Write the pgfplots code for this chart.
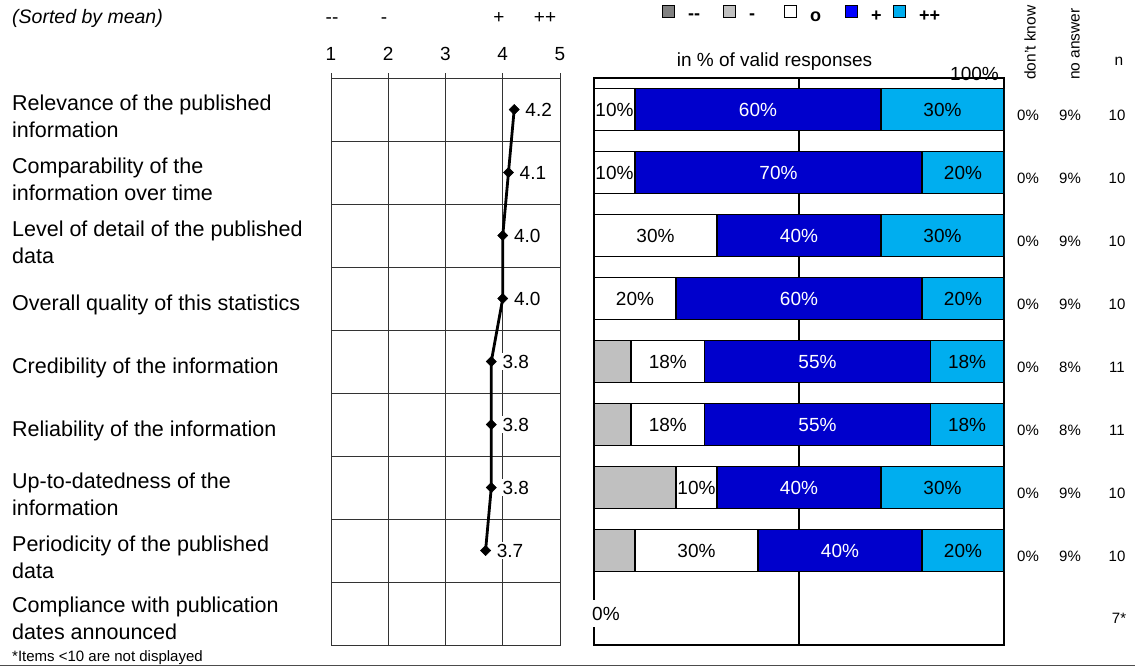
\documentclass[border=0pt]{standalone}
\usepackage{pgfplots}
\pgfplotsset{compat=1.18}
\usepackage{fontspec}
\setmainfont{Liberation Sans}
\definecolor{cdgray}{RGB}{128,128,128}
\definecolor{clgray}{RGB}{192,192,192}
\definecolor{cblue}{RGB}{0,0,204}
\definecolor{cblueleg}{RGB}{0,0,255}
\definecolor{ccyan}{RGB}{0,174,239}
\newcommand\fs[1]{\fontsize{#1}{#1}\selectfont}
\pgfplotsset{/pgf/number format/assume math mode=true,
  legsq/.style={legend image code/.code={\draw[##1,draw=black,line width=1pt] (0pt,-0.5pt) rectangle (12pt,11.5pt);}}}
\tikzset{bl/.style={font=\fs{19}, inner sep=0pt}, wl/.style={font=\fs{19}, inner sep=0pt, text=white}}

\begin{document}
\begin{tikzpicture}[x=1pt,y=1pt]
\useasboundingbox (0,0) rectangle (1135,-666);

% ---- titles / headers
\node[anchor=base west, inner sep=0pt, font=\fs{19.5}\itshape] at (12,-24) {(Sorted by mean)};
\node[anchor=base, inner sep=0pt, font=\fs{19}] at (332,-24) {-{}-};
\node[anchor=base, inner sep=0pt, font=\fs{19}] at (384,-24) {-};
\node[anchor=base, inner sep=0pt, font=\fs{19}] at (499,-24) {+};
\node[anchor=base, inner sep=0pt, font=\fs{19}] at (545,-24) {++};

% ---- category labels (row centre c = 46.5 + 63 i)
\begin{scope}[every node/.style={anchor=base west, inner sep=0pt, font=\fs{21.5}}]
\node at (12,-110.5) {Relevance of the published};
\node at (12,-137.5) {information};
\node at (12,-173.5) {Comparability of the};
\node at (12,-200.5) {information over time};
\node at (12,-236.5) {Level of detail of the published};
\node at (12,-263.5) {data};
\node at (12,-310.5) {Overall quality of this statistics};
\node at (12,-373.5) {Credibility of the information};
\node at (12,-436.5) {Reliability of the information};
\node at (12,-488.5) {Up-to-datedness of the};
\node at (12,-515.5) {information};
\node at (12,-551.5) {Periodicity of the published};
\node at (12,-578.5) {data};
\node at (12,-612.5) {Compliance with publication};
\node at (12,-639.5) {dates announced};
\end{scope}
\node[anchor=base west, inner sep=0pt, font=\fs{15}] at (12,-661) {*Items <10 are not displayed};
\draw[black!70, line width=1.5pt] (0,-665.5) -- (1135,-665.5);

% ---- mean chart
\begin{axis}[
  at={(331pt,-645pt)}, anchor=south west,
  scale only axis, width=229pt, height=567pt,
  xmin=1, xmax=5, ymin=0.5, ymax=9.5, y dir=reverse,
  clip=false,
  xtick={1,2,3,4,5}, xtick pos=upper, xticklabel pos=upper,
  tick align=outside, major tick length=5pt,
  xtick style={black!80, line width=1pt},
  xticklabel style={font=\fs{19}, yshift=9pt},
  ytick={0.5,1.5,...,9.5}, yticklabels={}, ytick style={draw=none},
  xmajorgrids, ymajorgrids,
  major grid style={black!80, line width=1pt},
  axis line style={black!80, line width=1pt},
]
\addplot[black, line width=2.8pt, mark=square*,
  mark options={rotate=45, line width=0.5pt, fill=black, scale=1},
  mark size=3.6pt,
  nodes near coords={\pgfmathprintnumber[fixed,fixed zerofill,precision=1]{\pgfplotspointmeta}},
  point meta=x, nodes near coords align={horizontal},
  every node near coord/.append style={font=\fs{19}, fill=white, inner sep=2pt, xshift=9pt, text=black}]
coordinates {(4.2,1) (4.1,2) (4.0,3) (4.0,4) (3.8,5) (3.8,6) (3.8,7) (3.7,8)};
\end{axis}

% ---- bar chart texts behind frame
\node[anchor=base east, inner sep=0pt, font=\fs{19}] at (999,-81) {100\%};
\node[anchor=base, inner sep=0pt, font=\fs{19}] at (774.5,-67) {in \% of valid responses};

\begin{axis}[
  at={(594pt,-645pt)}, anchor=south west,
  scale only axis, width=410pt, height=567pt,
  xmin=0, xmax=100, ymin=0.5, ymax=9.5, y dir=reverse,
  xbar stacked, bar width=42pt,
  xtick={50}, xticklabels={}, xtick style={draw=none},
  ytick=\empty,
  xmajorgrids, major grid style={black, line width=1.6pt},
  axis line style={black, line width=1.8pt},
  legend style={at={(0.1659,1.1129)}, anchor=west, draw=none, fill=none,
     inner sep=0pt, font=\fs{18}\bfseries, legend columns=5,
     nodes={inner sep=0pt},
     /tikz/every odd column/.append style={column sep=13pt}},
  legend cell align=left,
]
\addplot[forget plot, fill=cdgray, draw=black, line width=1.4pt]
  coordinates {(0,1) (0,2) (0,3) (0,4) (0,5) (0,6) (0,7) (0,8)};
\addplot[forget plot, fill=clgray, draw=black, line width=1.4pt]
  coordinates {(0,1) (0,2) (0,3) (0,4) (9,5) (9,6) (20,7) (10,8)};
\addplot[forget plot, fill=white, draw=black, line width=1.4pt]
  coordinates {(10,1) (10,2) (30,3) (20,4) (18,5) (18,6) (10,7) (30,8)};
\addplot[forget plot, fill=cblue, draw=black, line width=1.4pt]
  coordinates {(60,1) (70,2) (40,3) (60,4) (55,5) (55,6) (40,7) (40,8)};
\addplot[forget plot, fill=ccyan, draw=black, line width=1.4pt]
  coordinates {(30,1) (20,2) (30,3) (20,4) (18,5) (18,6) (30,7) (20,8)};
\addlegendimage{legsq, fill=cdgray}
\addlegendentry{\makebox[35pt][l]{-{}-}}
\addlegendimage{legsq, fill=clgray}
\addlegendentry{\makebox[35pt][l]{-}}
\addlegendimage{legsq, fill=white}
\addlegendentry{\makebox[35pt][l]{o}}
\addlegendimage{legsq, fill=cblueleg}
\addlegendentry{\makebox[22pt][l]{+}}
\addlegendimage{legsq, fill=ccyan}
\addlegendentry{++}
% segment centres
\coordinate (w1) at (axis cs:5,1);   \coordinate (b1) at (axis cs:40,1);   \coordinate (c1) at (axis cs:85,1);
\coordinate (w2) at (axis cs:5,2);   \coordinate (b2) at (axis cs:45,2);   \coordinate (c2) at (axis cs:90,2);
\coordinate (w3) at (axis cs:15,3);  \coordinate (b3) at (axis cs:50,3);   \coordinate (c3) at (axis cs:85,3);
\coordinate (w4) at (axis cs:10,4);  \coordinate (b4) at (axis cs:50,4);   \coordinate (c4) at (axis cs:90,4);
\coordinate (w5) at (axis cs:18,5);  \coordinate (b5) at (axis cs:54.5,5); \coordinate (c5) at (axis cs:91,5);
\coordinate (w6) at (axis cs:18,6);  \coordinate (b6) at (axis cs:54.5,6); \coordinate (c6) at (axis cs:91,6);
\coordinate (w7) at (axis cs:25,7);  \coordinate (b7) at (axis cs:50,7);   \coordinate (c7) at (axis cs:85,7);
\coordinate (w8) at (axis cs:25,8);  \coordinate (b8) at (axis cs:60,8);   \coordinate (c8) at (axis cs:90,8);
\end{axis}
% segment labels
\node[bl] at (w1) {10\%}; \node[wl] at (b1) {60\%}; \node[bl] at (c1) {30\%};
\node[bl] at (w2) {10\%}; \node[wl] at (b2) {70\%}; \node[bl] at (c2) {20\%};
\node[bl] at (w3) {30\%}; \node[wl] at (b3) {40\%}; \node[bl] at (c3) {30\%};
\node[bl] at (w4) {20\%}; \node[wl] at (b4) {60\%}; \node[bl] at (c4) {20\%};
\node[bl] at (w5) {18\%}; \node[wl] at (b5) {55\%}; \node[bl] at (c5) {18\%};
\node[bl] at (w6) {18\%}; \node[wl] at (b6) {55\%}; \node[bl] at (c6) {18\%};
\node[bl] at (w7) {10\%}; \node[wl] at (b7) {40\%}; \node[bl] at (c7) {30\%};
\node[bl] at (w8) {30\%}; \node[wl] at (b8) {40\%}; \node[bl] at (c8) {20\%};
\node[anchor=west, fill=white, inner xsep=1pt, inner ysep=7pt, font=\fs{19}] at (591,-613.5) {0\%};

% ---- right columns
\node[rotate=90, anchor=west, inner sep=0pt, font=\fs{15.5}] at (1030,-80) {don't know};
\node[rotate=90, anchor=west, inner sep=0pt, font=\fs{15.5}] at (1075.5,-80) {no answer};
\node[anchor=base, inner sep=0pt, font=\fs{15.5}] at (1119,-66) {n};
\foreach \i/\na/\n in {1/9/10,2/9/10,3/9/10,4/9/10,5/8/11,6/8/11,7/9/10,8/9/10}{
  \node[anchor=base, inner sep=0pt, font=\fs{15}] at (1028,{-(46.5+63*\i+11)}) {0\%};
  \node[anchor=base, inner sep=0pt, font=\fs{15}] at (1070,{-(46.5+63*\i+11)}) {\na\%};
  \node[anchor=base, inner sep=0pt, font=\fs{15}] at (1117,{-(46.5+63*\i+11)}) {\n};
}
\node[anchor=base, inner sep=0pt, font=\fs{15}] at (1119,-623) {7*};
\end{tikzpicture}
\end{document}
